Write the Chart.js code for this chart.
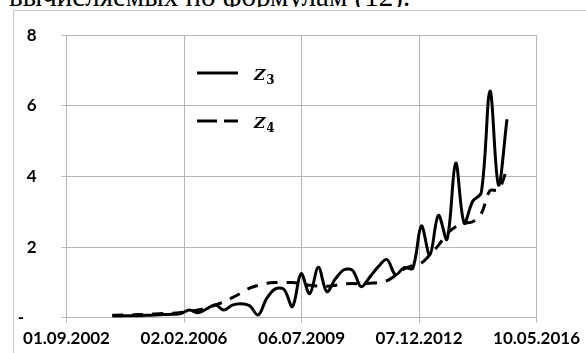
<!DOCTYPE html>
<html>
<head>
<meta charset="utf-8">
<script src="https://cdn.jsdelivr.net/npm/chart.js@4"></script>
<style>
  html, body { margin: 0; padding: 0; background: #fff; }
  body { width: 586px; height: 353px; overflow: hidden; position: relative; }
  #caption { position: absolute; left: 0; top: 0; width: 586px; height: 7px; overflow: hidden; }
  #caption span { position: absolute; left: 9px; top: -18px; white-space: nowrap; color: #000;
                  font: 29px/29px "Liberation Serif", "Times New Roman", serif; }
  #frame { position: absolute; left: 13px; top: 10px; width: 620px; height: 400px;
           border-left: 1px solid #c6c6c6; border-top: 1px solid #c6c6c6; background: #fff; }
  #wrap { position: absolute; left: 0; top: 0; width: 586px; height: 353px; }
</style>
</head>
<body>
<div id="caption"><span>вычисляемых по формулам (12).</span></div>
<div id="frame"></div>
<div id="wrap"><canvas id="chart"></canvas></div>
<script>
// Quarterly observation dates
const quarters = [
  '01.01.2004', '01.04.2004', '01.07.2004', '01.10.2004',
  '01.01.2005', '01.04.2005', '01.07.2005', '01.10.2005',
  '01.01.2006', '01.04.2006', '01.07.2006', '01.10.2006',
  '01.01.2007', '01.04.2007', '01.07.2007', '01.10.2007',
  '01.01.2008', '01.04.2008', '01.07.2008', '01.10.2008',
  '01.01.2009', '01.04.2009', '01.07.2009', '01.10.2009',
  '01.01.2010', '01.04.2010', '01.07.2010', '01.10.2010',
  '01.01.2011', '01.04.2011', '01.07.2011', '01.10.2011',
  '01.01.2012', '01.04.2012', '01.07.2012', '01.10.2012',
  '01.01.2013', '01.04.2013', '01.07.2013', '01.10.2013',
  '01.01.2014', '01.04.2014', '01.07.2014', '01.10.2014',
  '01.01.2015', '01.04.2015', '01.07.2015'
];

// Z3 series
const z3 = [
  0.05, 0.05, 0.06, 0.06,
  0.07, 0.08, 0.09, 0.10,
  0.12, 0.22, 0.14, 0.25,
  0.37, 0.22, 0.36, 0.40,
  0.34, 0.08, 0.55, 0.82,
  0.80, 0.32, 1.25, 0.68,
  1.43, 0.74, 1.10, 1.36,
  1.34, 0.88, 1.15, 1.45,
  1.65, 1.22, 1.42, 1.40,
  2.60, 1.78, 2.90, 2.22,
  4.38, 2.68, 3.30, 3.55,
  6.42, 3.76, 5.62
];

// Z4 series
const z4 = [
  0.07, 0.08, 0.08, 0.09,
  0.10, 0.11, 0.12, 0.13,
  0.15, 0.18, 0.22, 0.28,
  0.36, 0.45, 0.57, 0.70,
  0.84, 0.92, 0.98, 1.00,
  1.00, 1.00, 0.97, 0.92,
  0.90, 0.89, 0.92, 0.96,
  0.97, 0.96, 0.98, 1.00,
  1.05, 1.20, 1.38, 1.48,
  1.55, 1.78, 2.05, 2.38,
  2.58, 2.68, 2.72, 2.95,
  3.60, 3.62, 4.22
];

const seriesNames = ['Z3', 'Z4'];
const xTickLabels = ['01.09.2002', '02.02.2006', '06.07.2009', '07.12.2012', '10.05.2016'];
const yTickValues = [0, 2, 4, 6, 8];

// dd.mm.yyyy -> day number
function dayNumber(s) {
  const [d, m, y] = s.split('.').map(Number);
  return Date.UTC(y, m - 1, d) / 86400000;
}

const xTickValues = xTickLabels.map(dayNumber);
const GRID = '#b5b5b5';
const tickFont = { family: 'Lato, "Open Sans", sans-serif', size: 17, weight: 'bold' };

function points(values) {
  return quarters.map((q, i) => ({ x: dayNumber(q), y: values[i] }));
}

// Legend drawn inside the plot area: a line sample followed by Z with a subscript
const innerLegend = {
  id: 'innerLegend',
  afterDatasetsDraw(chart) {
    const ctx = chart.ctx;
    const x0 = 197, len = 41, textX = 254, firstY = 73, stepY = 48;
    chart.data.datasets.forEach((ds, i) => {
      const y = firstY + i * stepY;
      ctx.save();
      ctx.strokeStyle = ds.borderColor;
      ctx.lineWidth = 3;
      ctx.setLineDash(ds.legendDash || []);
      ctx.beginPath();
      ctx.moveTo(x0, y);
      ctx.lineTo(x0 + len, y);
      ctx.stroke();
      ctx.setLineDash([]);
      ctx.fillStyle = '#000';
      ctx.textBaseline = 'alphabetic';
      ctx.textAlign = 'left';
      const main = ds.label.charAt(0);
      const sub = ds.label.slice(1);
      ctx.font = 'italic bold 15.5px "DejaVu Serif", serif';
      ctx.fillText(main, textX, y + 6.8);
      const w = ctx.measureText(main).width;
      ctx.font = 'bold 12px "DejaVu Serif", serif';
      ctx.fillText(sub, textX + w + 1, y + 10.8);
      ctx.restore();
    });
  }
};

new Chart(document.getElementById('chart'), {
  type: 'line',
  data: {
    datasets: [
      {
        label: seriesNames[0],
        data: points(z3),
        borderColor: '#000',
        borderWidth: 3,
        pointRadius: 0,
        tension: 0.35,
        fill: false,
        legendDash: []
      },
      {
        label: seriesNames[1],
        data: points(z4),
        borderColor: '#000',
        borderWidth: 3,
        borderDash: [11, 9],
        pointRadius: 0,
        tension: 0.35,
        fill: false,
        legendDash: [20, 7]
      }
    ]
  },
  options: {
    responsive: true,
    maintainAspectRatio: false,
    animation: false,
    layout: { padding: { top: 23, right: 44.5, left: 0, bottom: 0 } },
    plugins: { legend: { display: false }, tooltip: { enabled: false } },
    scales: {
      x: {
        type: 'linear',
        min: xTickValues[0],
        max: xTickValues[xTickValues.length - 1],
        afterBuildTicks: s => { s.ticks = xTickValues.map(v => ({ value: v })); },
        afterFit: s => { s.height = 34; },
        grid: { color: GRID, lineWidth: 1, tickLength: 5, drawTicks: true },
        border: { color: GRID, width: 1 },
        ticks: {
          callback: (v, i) => xTickLabels[i],
          font: tickFont, color: '#000',
          maxRotation: 0, autoSkip: false, padding: 6
        }
      },
      y: {
        min: 0,
        max: 8,
        afterBuildTicks: s => { s.ticks = yTickValues.map(v => ({ value: v })); },
        afterFit: s => { s.width = 66.5; },
        grid: { color: GRID, lineWidth: 1, tickLength: 5, drawTicks: true },
        border: { color: GRID, width: 1 },
        ticks: {
          callback: v => (v === 0 ? '-   ' : String(v)),
          font: tickFont, color: '#000', padding: 25
        }
      }
    }
  },
  plugins: [innerLegend]
});
</script>
</body>
</html>
